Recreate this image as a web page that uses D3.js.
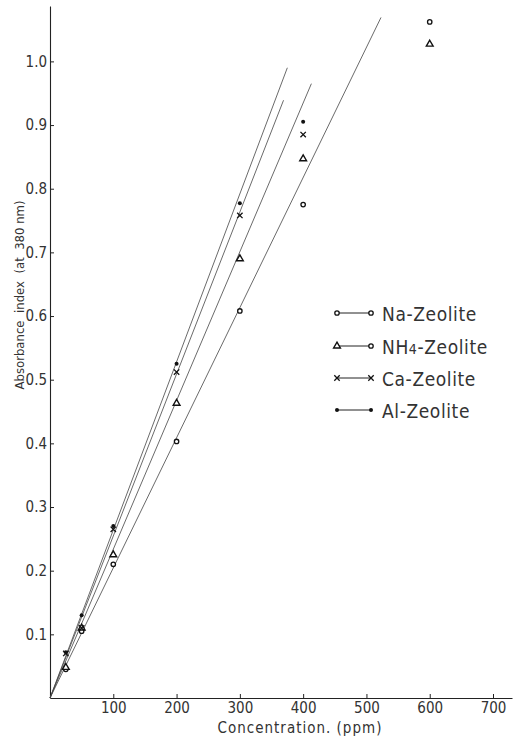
<!DOCTYPE html>
<html>
<head>
<meta charset="utf-8">
<script src="https://cdn.jsdelivr.net/npm/d3@7/dist/d3.min.js"></script>
<style>
  body { margin: 0; background: #fff; }
  svg { display: block; }
  text { font-family: "DejaVu Sans Condensed", "DejaVu Sans", sans-serif; fill: #333; }
</style>
</head>
<body>
<div id="chart"></div>
<script>
// concentrations (ppm)
var conc = [25, 50, 100, 200, 300, 400, 600];
// absorbance index values
var naVals  = [0.045, 0.105, 0.21, 0.403, 0.608, 0.775, 1.062];
var nh4Vals = [0.048, 0.11, 0.225, 0.463, 0.69, 0.847, 1.027];
var caVals  = [0.07, 0.11, 0.265, 0.512, 0.758, 0.885, null];
var alVals  = [0.072, 0.13, 0.27, 0.525, 0.777, 0.905, null];
// fitted straight lines through origin: end points
var lineEndX = [523, 413, 369, 375];
var lineEndY = [1.069, 0.965, 0.939, 0.99];
var names = ["Na-Zeolite", "NH4-Zeolite", "Ca-Zeolite", "Al-Zeolite"];
var symbols = ["circle", "triangle", "cross", "dot"];
var xTicks = [100, 200, 300, 400, 500, 600, 700];
var yTicks = [0.1, 0.2, 0.3, 0.4, 0.5, 0.6, 0.7, 0.8, 0.9, 1.0];

var width = 514, height = 737;
var svg = d3.select("#chart").append("svg")
    .attr("width", width).attr("height", height);

var x = d3.scaleLinear().domain([0, 730]).range([50, 512]);
var y = d3.scaleLinear().domain([0, 1.087]).range([698, 6]);

// axes
var xAxis = svg.append("g")
    .attr("transform", "translate(0," + y(0) + ")")
    .call(d3.axisBottom(x).tickValues(xTicks).tickSize(-4).tickPadding(4).tickSizeOuter(0));
var yAxis = svg.append("g")
    .attr("transform", "translate(" + x(0) + ",0)")
    .call(d3.axisLeft(y).tickValues(yTicks).tickSize(-4).tickPadding(3).tickSizeOuter(0)
      .tickFormat(d3.format(".1f")));
[xAxis, yAxis].forEach(function(a) {
  a.select(".domain").attr("stroke", "#222").attr("stroke-width", 1.1);
  a.selectAll(".tick line").attr("stroke", "#222");
  a.selectAll(".tick text").attr("font-size", 15).attr("fill", "#333")
    .style("font-family", '"DejaVu Sans Condensed", "DejaVu Sans", sans-serif');
});
yAxis.selectAll(".tick text").attr("dy", "0.32em");

// axis titles
svg.append("text")
    .attr("x", 300).attr("y", 733)
    .attr("text-anchor", "middle")
    .attr("font-size", 15)
    .attr("letter-spacing", 1)
    .text("Concentration. (ppm)");

svg.append("text")
    .attr("transform", "translate(24,295) rotate(-90)")
    .attr("text-anchor", "middle")
    .attr("font-size", 13)
    .attr("letter-spacing", 0)
    .attr("xml:space", "preserve")
    .text("Absorbance  index  (at  380 nm)");

// fitted lines
var lines = svg.append("g");
names.forEach(function(n, i) {
  lines.append("line")
      .attr("x1", x(0)).attr("y1", y(0))
      .attr("x2", x(lineEndX[i])).attr("y2", y(lineEndY[i]))
      .attr("stroke", "#444").attr("stroke-width", 0.8);
});

function drawSymbol(g, type, cx, cy) {
  if (type === "circle") {
    g.append("circle").attr("cx", cx).attr("cy", cy).attr("r", 2.2)
      .attr("fill", "#fff").attr("stroke", "#111").attr("stroke-width", 1.3);
  } else if (type === "triangle") {
    g.append("path")
      .attr("d", d3.symbol().type(d3.symbolTriangle).size(20)())
      .attr("transform", "translate(" + cx + "," + cy + ")")
      .attr("fill", "#fff").attr("stroke", "#111").attr("stroke-width", 1.4);
  } else if (type === "cross") {
    g.append("path")
      .attr("d", "M-2.7,-2.7L2.7,2.7M-2.7,2.7L2.7,-2.7")
      .attr("transform", "translate(" + cx + "," + cy + ")")
      .attr("fill", "none").attr("stroke", "#111").attr("stroke-width", 1.3);
  } else {
    g.append("circle").attr("cx", cx).attr("cy", cy).attr("r", 2)
      .attr("fill", "#111");
  }
}

// data points
var allVals = [naVals, nh4Vals, caVals, alVals];
var pts = svg.append("g");
allVals.forEach(function(vals, i) {
  vals.forEach(function(v, j) {
    if (v == null) return;
    drawSymbol(pts, symbols[i], x(conc[j]), y(v));
  });
});

// legend
var legend = svg.append("g");
var legY = [313, 346, 378, 410];
names.forEach(function(n, i) {
  var g = legend.append("g");
  g.append("line").attr("x1", 337).attr("x2", 371)
    .attr("y1", legY[i]).attr("y2", legY[i])
    .attr("stroke", "#222").attr("stroke-width", 1);
  drawSymbol(g, symbols[i], 337, legY[i]);
  drawSymbol(g, i === 1 ? "circle" : symbols[i], 371, legY[i]);
  var t = g.append("text").attr("x", 382).attr("y", legY[i] + 8)
    .attr("font-size", 19).attr("letter-spacing", 0.6);
  if (n === "NH4-Zeolite") {
    t.append("tspan").text("NH");
    t.append("tspan").attr("font-size", 14).text("4");
    t.append("tspan").text("-Zeolite");
  } else {
    t.text(n);
  }
});
</script>
</body>
</html>
